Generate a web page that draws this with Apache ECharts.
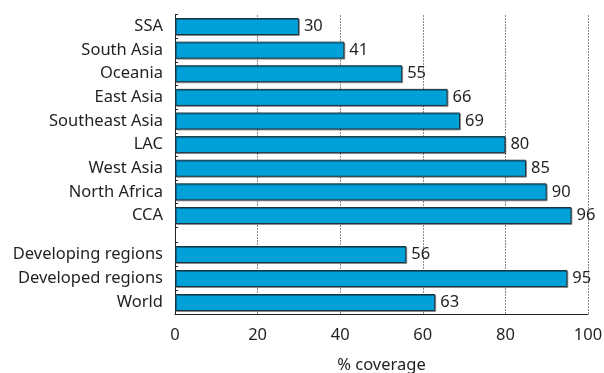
<!DOCTYPE html>
<html>
<head>
<meta charset="utf-8">
<script src="https://cdn.jsdelivr.net/npm/echarts@6/dist/echarts.min.js"></script>
<style>
	html, body { margin: 0; padding: 0; background: #fff; }
	#main { width: 604px; height: 373px; }
</style>
</head>
<body>
<div id="main"></div>
<script>
// regions (top block) and aggregates (bottom block)
var regions = ['SSA', 'South Asia', 'Oceania', 'East Asia', 'Southeast Asia', 'LAC', 'West Asia', 'North Africa', 'CCA'];
var regionValues = [30, 41, 55, 66, 69, 80, 85, 90, 96];
var groups = ['Developing regions', 'Developed regions', 'World'];
var groupValues = [56, 95, 63];
var axisName = '% coverage';

var font = 'Noto Sans';
var ink = '#231f20';
var fs = 16.5;

function drawChart() {
	var myChart = echarts.init(document.getElementById('main'));

	var barStyle = {
		color: '#00a1d8',
		borderColor: '#1d3340',
		borderWidth: 1,
		shadowColor: 'rgba(0,0,0,0.35)',
		shadowOffsetX: 1,
		shadowOffsetY: 1,
		shadowBlur: 0
	};
	var barLabel = {
		show: true,
		position: 'right',
		distance: 5,
		color: ink,
		fontFamily: font,
		fontSize: fs
	};
	var catLabel = { color: ink, fontFamily: font, fontSize: fs, margin: 12 };
	var hiddenX = { type: 'value', min: 0, max: 100, show: false };

	var option = {
		animation: false,
		grid: [
			{ left: 175, right: 16, top: 15, bottom: 59, outerBoundsMode: 'none' },
			{ left: 175, right: 16, top: 14.7, height: 212.6, outerBoundsMode: 'none' },
			{ left: 175, right: 16, top: 242.5, height: 72, outerBoundsMode: 'none' }
		],
		xAxis: [
			{
				gridIndex: 0, type: 'value', min: 0, max: 100, interval: 20,
				name: axisName, nameLocation: 'middle', nameGap: 43,
				nameTextStyle: { color: ink, fontFamily: font, fontSize: fs },
				axisLine: { show: true, lineStyle: { color: ink, width: 1 } },
				axisTick: { show: false },
				axisLabel: { color: ink, fontFamily: font, fontSize: fs, margin: 13 },
				splitLine: { show: true, lineStyle: { color: '#8a8a8a', type: [2, 1], width: 1 } }
			},
			Object.assign({ gridIndex: 1 }, hiddenX),
			Object.assign({ gridIndex: 2 }, hiddenX)
		],
		yAxis: [
			{
				gridIndex: 0, type: 'category', data: [''],
				axisLine: { show: true, lineStyle: { color: ink, width: 1 } },
				axisTick: { show: false }, axisLabel: { show: false }
			},
			{
				gridIndex: 1, type: 'category', inverse: true, data: regions,
				axisLine: { show: false },
				axisTick: { show: true, inside: true, length: 3, lineStyle: { color: ink } },
				axisLabel: catLabel
			},
			{
				gridIndex: 2, type: 'category', inverse: true, data: groups,
				axisLine: { show: false },
				axisTick: { show: true, inside: true, length: 3, lineStyle: { color: ink } },
				axisLabel: catLabel
			}
		],
		series: [
			{
				type: 'bar', xAxisIndex: 1, yAxisIndex: 1, data: regionValues,
				barWidth: 17, itemStyle: barStyle, label: barLabel
			},
			{
				type: 'bar', xAxisIndex: 2, yAxisIndex: 2, data: groupValues,
				barWidth: 17, itemStyle: barStyle, label: barLabel
			}
		]
	};
	myChart.setOption(option);
}

drawChart();
</script>
</body>
</html>
